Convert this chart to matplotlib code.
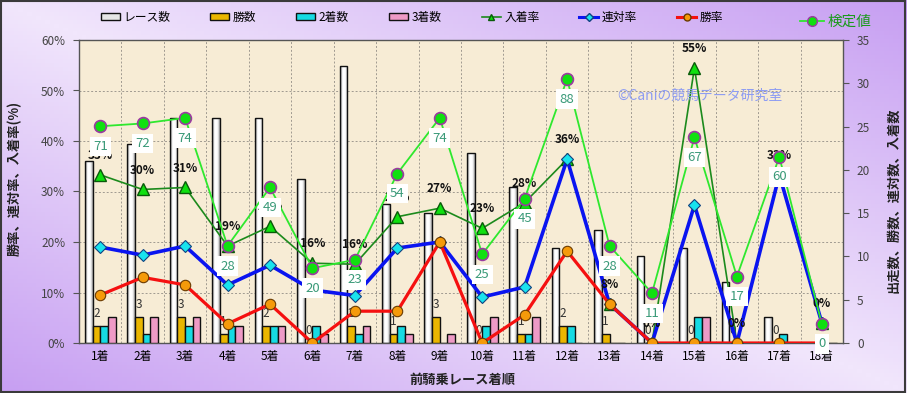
import numpy as np
import matplotlib
matplotlib.use('Agg')
import matplotlib.pyplot as plt
from matplotlib.patches import Patch, Rectangle
from matplotlib.lines import Line2D
from matplotlib.colors import LinearSegmentedColormap

plt.rcParams['font.family'] = ['Noto Sans CJK JP', 'DejaVu Sans']

# ---------------- data ----------------
categories = ['1着', '2着', '3着', '4着', '5着', '6着', '7着', '8着', '9着',
              '10着', '11着', '12着', '13着', '14着', '15着', '16着', '17着', '18着']
races = [21, 23, 26, 26, 26, 19, 32, 16, 15, 22, 18, 11, 13, 10, 11, 7, 3, 0]
wins = [2, 3, 3, 1, 2, 0, 2, 1, 3, 0, 1, 2, 1, 0, 0, 0, 0, 0]
seconds = [2, 1, 2, 2, 2, 2, 1, 2, 0, 2, 1, 2, 0, 0, 3, 0, 1, 0]
thirds = [3, 3, 3, 2, 2, 1, 2, 1, 1, 3, 3, 0, 0, 0, 3, 0, 0, 0]
win_rate = [9.5, 13.0, 11.5, 3.8, 7.7, 0, 6.3, 6.3, 20.0, 0, 5.6, 18.2, 7.7, 0, 0, 0, 0, 0]
rentai_rate = [19.0, 17.4, 19.2, 11.5, 15.4, 10.5, 9.4, 18.8, 20.0, 9.1, 11.1, 36.4, 7.7, 0, 27.3, 0, 33.3, 4.0]
place_rate = [33.3, 30.4, 30.8, 19.2, 23.1, 15.8, 15.6, 25.0, 26.7, 22.7, 27.8, 36.4, 7.7, 0, 54.5, 0, 33.3, 4.0]
place_labels = ['33%', '30%', '31%', '19%', '23%', '16%', '16%', '25%', '27%', '23%', '28%',
                '36%', '8%', '0%', '55%', '0%', '33%', '0%']
kentei = [71, 72, 74, 28, 49, 20, 23, 54, 74, 25, 45, 88, 28, 11, 67, 17, 60, 0]

W, H = 907, 393
fig = plt.figure(figsize=(W / 100, H / 100), dpi=100)

# ---------------- figure background gradient ----------------
ax_bg = fig.add_axes([0, 0, 1, 1], zorder=-10)
u = np.linspace(0, 1, 200)
v = np.linspace(1, 0, 100)
U, V = np.meshgrid(u, v)
T = np.abs(U + V - 1)
bg_cmap = LinearSegmentedColormap.from_list('bg', ['#f1e6fc', '#c79ff2'])
ax_bg.imshow(T, cmap=bg_cmap, extent=[0, 1, 0, 1], aspect='auto', vmin=0, vmax=1)
ax_bg.set_xlim(0, 1); ax_bg.set_ylim(0, 1)
ax_bg.axis('off')
ax_bg.add_patch(Rectangle((0.001, 0.002), 0.997, 0.995, fill=False, edgecolor='#3a3a3a',
                          lw=1.5, transform=ax_bg.transAxes))

# ---------------- main axes ----------------
rect = [79 / W, (H - 343) / H, 764 / W, 303 / H]
ax_bar = fig.add_axes(rect, zorder=1)
ax_bar.set_facecolor('#f7ecd5')
x = np.arange(len(categories))
bw = 0.18
offs = [-0.27, -0.09, 0.09, 0.27]

grad_cmap = LinearSegmentedColormap.from_list('cyl', ['#7a7a7a', '#ffffff', '#ffffff', '#a8a8a8'])
bars_r = ax_bar.bar(x + offs[0], races, bw, facecolor='none', edgecolor='#111111', lw=1.0, zorder=3)
gx = np.linspace(0, 1, 40)[None, :]
for p in bars_r:
    if p.get_height() <= 0:
        continue
    x0 = p.get_x(); w = p.get_width(); h = p.get_height()
    im = ax_bar.imshow(gx, cmap=grad_cmap, extent=[x0, x0 + w, 0, h], aspect='auto', zorder=2.5)
    im.set_clip_path(p)
ax_bar.bar(x + offs[1], wins, bw, color='#eab600', edgecolor='#111111', lw=1.0, zorder=3)
ax_bar.bar(x + offs[2], seconds, bw, color='#16dbe3', edgecolor='#111111', lw=1.0, zorder=3)
ax_bar.bar(x + offs[3], thirds, bw, color='#ee9ac6', edgecolor='#111111', lw=1.0, zorder=3)

ax_bar.set_xlim(-0.5, len(categories) - 0.5)
ax_bar.set_ylim(0, 35)
ax_bar.set_xticks(x)
ax_bar.set_xticklabels(categories, fontsize=8.5)
ax_bar.tick_params(axis='x', length=0, pad=5)
for i in range(len(categories) - 1):
    ax_bar.axvline(i + 0.5, color='#a09a90', lw=0.7, ls=(0, (2, 2)), zorder=1)
for k in range(1, 6):
    ax_bar.axhline(35 * k / 6, color='#a09a90', lw=0.7, ls=(0, (2, 2)), zorder=1)
for s in ax_bar.spines.values():
    s.set_color('#555555'); s.set_linewidth(1.0)

# win count labels
for i, wv in enumerate(wins):
    if races[i] == 0:
        continue
    ax_bar.annotate(str(wv), (x[i] + offs[1], wv), xytext=(0, 9), textcoords='offset points',
                    ha='center', va='center', fontsize=8.5, color='#333333', zorder=4)

# ---------------- rate axes ----------------
ax_pct = ax_bar.twinx()
ax_pct.set_zorder(2)
ax_pct.patch.set_visible(False)
ax_pct.yaxis.tick_left()
ax_pct.set_ylim(0, 60)
ax_pct.set_yticks(np.arange(0, 61, 10))
ax_pct.set_yticklabels([f'{t}%' for t in range(0, 61, 10)])
ax_pct.tick_params(axis='y', labelsize=8.5, labelcolor='#444444', color='#555555', length=4, pad=6)
for s in ax_pct.spines.values():
    s.set_visible(False)

ax_pct.plot(x, place_rate, color='#1c8a1c', lw=1.2, marker='^', ms=8,
            mfc='#10e010', mec='#0a5a0a', mew=1.0, zorder=3)
ax_pct.plot(x, rentai_rate, color='#0a14f0', lw=2.6, marker='D', ms=6.5,
            mfc='#19e3ee', mec='#104080', mew=0.8, zorder=4)
ax_pct.plot(x, win_rate, color='#f51010', lw=2.3, marker='o', ms=7.5,
            mfc='#f59a0a', mec='#6a3a00', mew=0.8, zorder=5)
for i, lab in enumerate(place_labels):
    ax_pct.annotate(lab, (x[i], place_rate[i]), xytext=(0, 14), textcoords='offset points',
                    ha='center', va='center', fontsize=8.5, fontweight='bold',
                    color='#111111', zorder=6, annotation_clip=False)

# ---------------- kentei axis (hidden) ----------------
ax_k = ax_bar.twinx()
ax_k.set_zorder(3)
ax_k.patch.set_visible(False)
ax_k.set_ylim(-6.9, 102)
ax_k.axis('off')
ax_k.plot(x, kentei, color='#2ee82e', lw=1.3, marker='o', ms=8.5,
          mfc='#10e010', mec='#9a3aa0', mew=1.2, zorder=3)
for i, kv in enumerate(kentei):
    ax_k.annotate(str(kv), (x[i], kv), xytext=(0, -14.5), textcoords='offset points',
                  ha='center', va='center', fontsize=9.5, color='#3a9a78', zorder=7,
                  bbox=dict(boxstyle='square,pad=0.25', fc='white', ec='none'))

# right-hand count axis (set after twinx, which moves ticks)
ax_bar.yaxis.tick_right()
ax_bar.set_yticks(np.arange(0, 36, 5))
ax_bar.tick_params(axis='y', which='both', left=False, labelleft=False, right=True, labelright=True,
                   labelsize=8.5, labelcolor='#444444', color='#555555', length=4, pad=6)

# ---------------- texts ----------------
fig.text(700 / W, 1 - 96 / H, '©Caniの競馬データ研究室', fontsize=10, color='#8d9cf2',
         ha='center', va='center', zorder=20)
fig.text(15 / W, 1 - 178 / H, '勝率、連対率、入着率(%)', rotation=90, fontsize=9.5,
         ha='center', va='center', color='#222222', fontweight='bold')
fig.text(893 / W, 1 - 200 / H, '出走数、勝数、連対数、入着数', rotation=90, fontsize=9.5,
         ha='center', va='center', color='#222222', fontweight='bold')
fig.text(462 / W, 1 - 380 / H, '前騎乗レース着順', fontsize=9.5, ha='center', va='center',
         color='#222222', fontweight='bold')

# ---------------- legends ----------------
handles = [
    Patch(facecolor='#e6e6e6', edgecolor='#111111'),
    Patch(facecolor='#eab600', edgecolor='#111111'),
    Patch(facecolor='#16dbe3', edgecolor='#111111'),
    Patch(facecolor='#ee9ac6', edgecolor='#111111'),
    Line2D([], [], color='#1c8a1c', lw=1.2, marker='^', ms=5, mfc='#10e010', mec='#0a5a0a'),
    Line2D([], [], color='#0a14f0', lw=2.2, marker='D', ms=4, mfc='#19e3ee', mec='#104080'),
    Line2D([], [], color='#f51010', lw=2.2, marker='o', ms=5, mfc='#f59a0a', mec='#6a3a00'),
]
labels = ['レース数', '勝数', '2着数', '3着数', '入着率', '連対率', '勝率']
fig.legend(handles, labels, loc='center', bbox_to_anchor=(412 / W, 1 - 17 / H), ncol=7,
           frameon=False, fontsize=8.5, handlelength=1.6, handleheight=0.6,
           handletextpad=0.3, columnspacing=3.4)
fig.legend([Line2D([], [], color='#2ee82e', lw=1.3, marker='o', ms=7, mfc='#10e010', mec='#9a3aa0')],
           ['検定値'], loc='center', bbox_to_anchor=(836 / W, 1 - 22 / H), frameon=False,
           fontsize=10.5, handlelength=1.6, handletextpad=0.3, labelcolor='#1a9a1a')

fig.savefig('out.png', dpi=100)
